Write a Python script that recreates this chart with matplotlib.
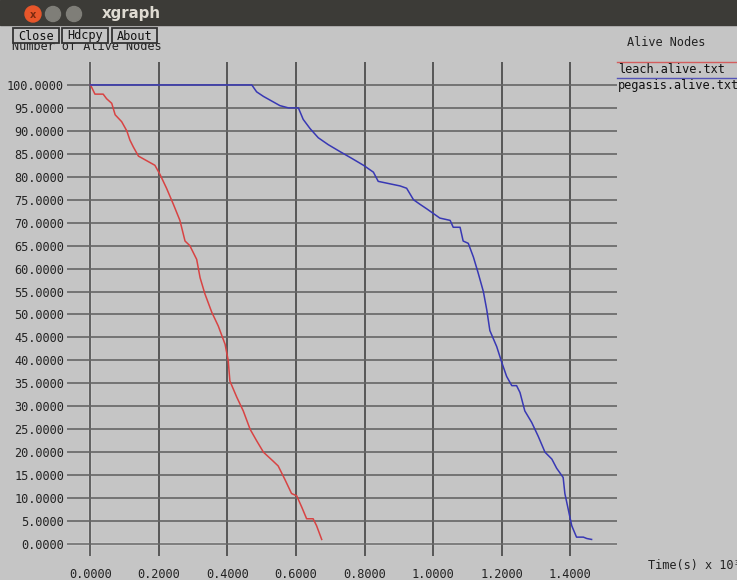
import numpy as np
import matplotlib.pyplot as plt
from matplotlib.patches import Rectangle, Circle
from matplotlib.transforms import Bbox

# alive node counts over time (time in units of 10^3 s)
leach_t = [0.000, 0.013, 0.037, 0.047, 0.062, 0.072, 0.091, 0.106, 0.115, 0.125,
           0.140, 0.164, 0.188, 0.203, 0.222, 0.242, 0.261, 0.276, 0.290, 0.310,
           0.320, 0.334, 0.354, 0.373, 0.393, 0.402, 0.407, 0.427, 0.446, 0.466,
           0.485, 0.505, 0.534, 0.548, 0.568, 0.587, 0.602, 0.617, 0.631, 0.650,
           0.660, 0.675]
leach_alive = [100, 98, 98, 97, 96, 93.5, 92, 90, 88, 86.5,
               84.5, 83.5, 82.5, 80.5, 77.5, 74, 70.5, 66, 65, 62,
               58, 54.5, 50.5, 47.5, 43.5, 40, 35.5, 32, 29, 25,
               22.5, 20, 18, 17, 14, 11, 10.5, 8, 5.5, 5.5,
               4, 1]

pegasis_t = [0.000, 0.471, 0.485, 0.505, 0.529, 0.553, 0.578, 0.607, 0.621, 0.641,
             0.665, 0.694, 0.728, 0.763, 0.797, 0.826, 0.840, 0.904, 0.923, 0.943,
             0.962, 0.982, 1.001, 1.020, 1.050, 1.059, 1.079, 1.088, 1.103, 1.118,
             1.132, 1.147, 1.157, 1.166, 1.186, 1.201, 1.215, 1.230, 1.244, 1.254,
             1.268, 1.288, 1.307, 1.327, 1.347, 1.361, 1.380, 1.385, 1.395, 1.405,
             1.419, 1.439, 1.449, 1.463]
pegasis_alive = [100, 100, 98.5, 97.5, 96.5, 95.5, 95, 95, 92.5, 90.5,
                 88.5, 87, 85.5, 84, 82.5, 81, 79, 78, 77.5, 75,
                 74, 73, 72, 71, 70.5, 69, 69, 66, 65.5, 62.5,
                 59, 55, 51, 46.5, 43, 39.5, 36.5, 34.5, 34.5, 33,
                 29, 26.5, 23.5, 20, 18.5, 16.5, 14.5, 11, 7.5, 4,
                 1.5, 1.5, 1.2, 1]

x_ticks = [0.0, 0.2, 0.4, 0.6, 0.8, 1.0, 1.2, 1.4]
y_ticks = list(range(0, 101, 5))
series_names = ['leach.alive.txt', 'pegasis.alive.txt']
series_colors = ['#d84343', '#3838b4']

bg = '#c5c5c5'
mono = 'DejaVu Sans Mono'
W, H = 737, 580

fig = plt.figure(figsize=(W / 100, H / 100), dpi=100, facecolor=bg)

# window decorations drawn in pixel coordinates
chrome = fig.add_axes([0, 0, 1, 1])
chrome.set_xlim(0, W)
chrome.set_ylim(H, 0)
chrome.axis('off')

# title bar
chrome.add_patch(Rectangle((0, 0), W, 25, color='#3c3b37', zorder=1))
chrome.add_patch(Circle((33, 14), 8, color='#e8562a', zorder=2))
chrome.text(33, 14.5, 'x', color='#7a2a10', fontsize=7, fontweight='bold',
            ha='center', va='center', zorder=3)
chrome.add_patch(Circle((53, 14), 7.5, color='#7f7e78', zorder=2))
chrome.add_patch(Circle((74, 14), 7.5, color='#7f7e78', zorder=2))
chrome.text(102, 13.5, 'xgraph', color='#dfdbd2', fontsize=10.8,
            fontweight='bold', ha='left', va='center', zorder=3)

# y axis title, partly covered by the buttons
chrome.text(12, 47, 'Number of Alive Nodes', family=mono, fontsize=8.6,
            ha='left', va='center', color='#222222', zorder=2)

# buttons
for x0, x1, label in [(13, 59, 'Close'), (62, 108, 'Hdcpy'), (112, 157, 'About')]:
    chrome.add_patch(Rectangle((x0, 28), x1 - x0, 15, facecolor=bg,
                               edgecolor='#333333', lw=1.3, zorder=4))
    chrome.text((x0 + x1) / 2, 36, label, family=mono, fontsize=8.6,
                ha='center', va='center', color='#111111', zorder=5)

# legend on the right
chrome.text(627, 42, 'Alive Nodes', family=mono, fontsize=8.6,
            ha='left', va='center', color='#222222')
for i, (name, col) in enumerate(zip(series_names, series_colors)):
    y = 62 + 15.5 * i
    chrome.plot([617, W], [y, y], color=col, lw=1.0, alpha=0.8)
    chrome.text(618, y + 7.5, name, family=mono, fontsize=8.6,
                ha='left', va='center', color='#111111')

# x axis title, runs off the right edge
chrome.text(648, 565, 'Time(s) x 10\u00b3', family=mono, fontsize=8.6,
            ha='left', va='center', color='#222222')

# plot area
ax = fig.add_axes([67 / W, 24 / H, 550 / W, 494 / H])
ax.set_facecolor('none')
ax.set_xlim(-0.0686, 1.5372)
ax.set_ylim(-2.61, 105.0)
for s in ax.spines.values():
    s.set_visible(False)

ax.set_xticks(x_ticks)
ax.set_yticks(y_ticks)
ax.set_xticklabels(['%.4f' % v for v in x_ticks])
ax.set_yticklabels(['%.4f' % v for v in y_ticks])
ax.tick_params(length=0, labelsize=8.6, labelcolor='#222222')
ax.tick_params(axis='y', pad=2.2)
ax.tick_params(axis='x', pad=9)
for lbl in ax.get_xticklabels():
    lbl.set_family(mono)
# left window edge hides the first digit of the widest label
for lbl in ax.get_yticklabels():
    lbl.set_family(mono)
    lbl.set_clip_on(True)
    lbl.set_clip_box(Bbox.from_extents(8, 0, W, H))

# grid, with the zero lines in white
ax.grid(axis='y', color='#666666', lw=1.2, zorder=0)
ax.grid(axis='x', color='#444444', lw=1.2, zorder=0)
ax.axhline(0, color='white', lw=1.6, zorder=1)
ax.axvline(0, color='white', lw=1.6, zorder=1)

ax.plot(leach_t, leach_alive, color=series_colors[0], lw=1.1, zorder=3)
ax.plot(pegasis_t, pegasis_alive, color=series_colors[1], lw=1.1, zorder=3)

fig.savefig('out.png', dpi=100, facecolor=bg)
